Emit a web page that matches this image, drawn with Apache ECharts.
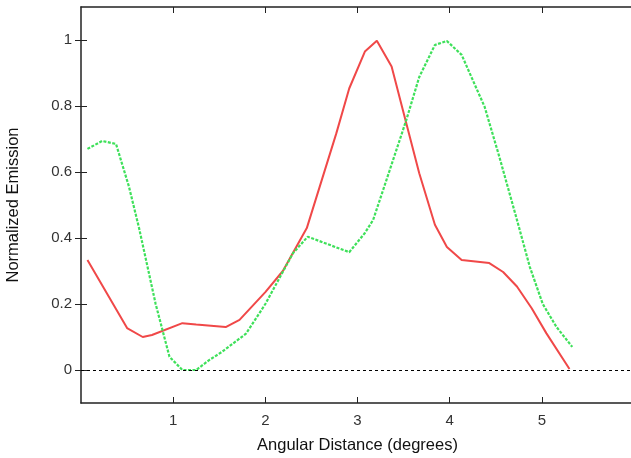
<!DOCTYPE html>
<html>
<head>
<meta charset="utf-8">
<script src="https://cdn.jsdelivr.net/npm/echarts@6/dist/echarts.min.js"></script>
<style>
  html, body { margin: 0; padding: 0; background: #fff; }
  #chart { width: 631px; height: 458px; }
</style>
</head>
<body>
<div id="chart"></div>
<script>
// 数据
var xTicks = [1, 2, 3, 4, 5];
var yTicks = [0, 0.2, 0.4, 0.6, 0.8, 1];

var redX = [0.07, 0.5, 0.67, 0.77, 1.1, 1.25, 1.57, 1.72, 2.0, 2.19, 2.45, 2.77, 2.91, 3.08, 3.21, 3.37, 3.53, 3.67, 3.84, 3.97, 4.13, 4.43, 4.58, 4.73, 4.89, 5.05, 5.3];
var redY = [0.333, 0.127, 0.10, 0.106, 0.142, 0.138, 0.13, 0.152, 0.236, 0.30, 0.43, 0.717, 0.853, 0.965, 0.998, 0.92, 0.747, 0.596, 0.44, 0.373, 0.333, 0.324, 0.297, 0.253, 0.187, 0.111, 0.003];

var greenX = [0.07, 0.23, 0.38, 0.52, 0.63, 0.81, 0.96, 1.1, 1.25, 1.39, 1.53, 1.79, 2.0, 2.3, 2.46, 2.91, 3.08, 3.17, 3.35, 3.53, 3.67, 3.84, 3.97, 4.13, 4.25, 4.38, 4.54, 4.73, 4.87, 5.01, 5.16, 5.33];
var greenY = [0.67, 0.694, 0.685, 0.556, 0.43, 0.2, 0.04, 0, 0, 0.03, 0.055, 0.11, 0.2, 0.354, 0.404, 0.357, 0.415, 0.455, 0.606, 0.758, 0.888, 0.985, 0.997, 0.955, 0.879, 0.797, 0.645, 0.455, 0.312, 0.2, 0.13, 0.07];

function pairs(xs, ys) {
	var out = [];
	for (var i = 0; i < xs.length; i++) {
		out.push([xs[i], ys[i]]);
	}
	return out;
}

var font = 'Liberation Sans, Arial, sans-serif';
var tickStyle = { inside: true, length: 6, lineStyle: { color: '#222', width: 1 } };

var myChart = echarts.init(document.getElementById('chart'));
myChart.setOption({
	animation: false,
	backgroundColor: '#fff',
	grid: { left: 81, right: -3, top: 7, bottom: 55, containLabel: false, outerBoundsMode: 'none' },
	xAxis: [{
		type: 'value', min: 0, max: 6,
		name: 'Angular Distance (degrees)', nameLocation: 'middle', nameGap: 34,
		nameTextStyle: { fontFamily: font, fontSize: 16.5, color: '#111' },
		axisLine: { show: true, onZero: false, lineStyle: { color: '#222', width: 1.5 } },
		axisTick: Object.assign({ customValues: xTicks }, tickStyle),
		axisLabel: { customValues: xTicks, fontFamily: font, fontSize: 15, color: '#333', margin: 10 },
		splitLine: { show: false }
	}, {
		type: 'value', min: 0, max: 6, position: 'top',
		axisLine: { show: true, onZero: false, lineStyle: { color: '#222', width: 1.5 } },
		axisTick: Object.assign({ customValues: xTicks }, tickStyle),
		axisLabel: { show: false },
		splitLine: { show: false }
	}],
	yAxis: [{
		type: 'value', min: -0.1, max: 1.1,
		name: 'Normalized Emission', nameLocation: 'middle', nameGap: 59,
		nameTextStyle: { fontFamily: font, fontSize: 16.5, color: '#111' },
		axisLine: { show: true, onZero: false, lineStyle: { color: '#222', width: 1.5 } },
		axisTick: Object.assign({ customValues: yTicks }, tickStyle),
		axisLabel: { customValues: yTicks, fontFamily: font, fontSize: 15, color: '#333', margin: 9 },
		splitLine: { show: false }
	}, {
		type: 'value', min: -0.1, max: 1.1, position: 'right',
		axisLine: { show: false },
		axisTick: Object.assign({ customValues: yTicks }, tickStyle),
		axisLabel: { show: false },
		splitLine: { show: false }
	}],
	series: [{
		type: 'line',
		data: pairs(redX, redY),
		showSymbol: false,
		lineStyle: { color: '#f04848', width: 2 },
		markLine: {
			silent: true, symbol: 'none', label: { show: false },
			lineStyle: { color: '#000', type: [3, 3], width: 1 },
			data: [{ yAxis: 0 }]
		}
	}, {
		type: 'line',
		data: pairs(greenX, greenY),
		showSymbol: false,
		lineStyle: { color: '#3ee05a', width: 2.2, type: [3, 1.5] }
	}]
});
</script>
</body>
</html>
